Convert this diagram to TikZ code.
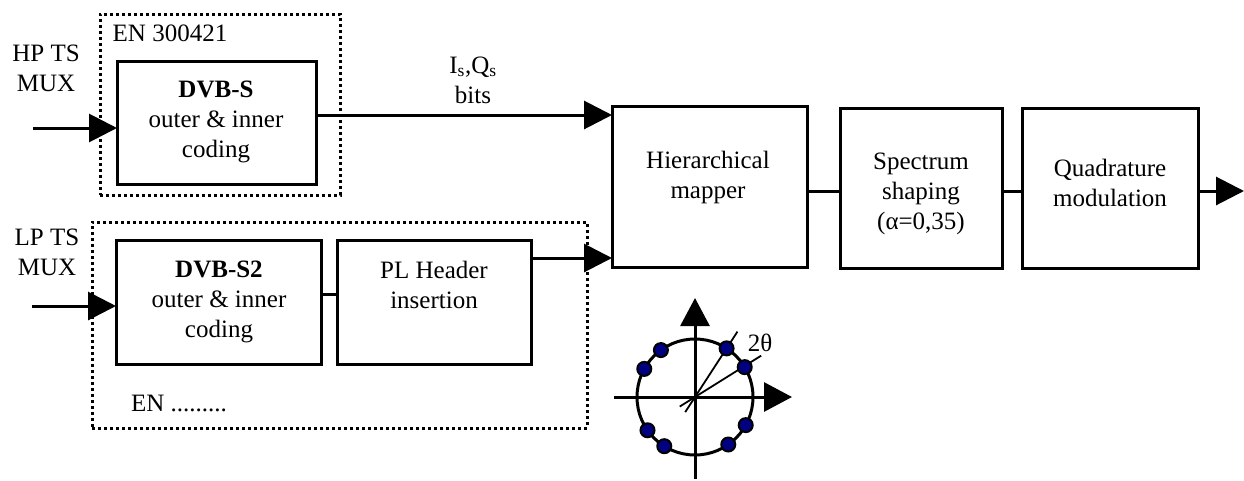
\documentclass[tikz,border=0pt]{standalone}
\usepackage{fontspec}
\setmainfont{Liberation Serif}
\usetikzlibrary{arrows.meta,calc}
\definecolor{dotblue}{RGB}{0,0,128}
\tikzset{
  txt/.style={font=\fontsize{25}{30}\selectfont, align=center, inner sep=0pt},
  blk/.style={draw, line width=3pt, outer sep=0pt, inner sep=0pt},
  dotbox/.style={draw, line width=3pt, dash pattern=on 3pt off 3pt, outer sep=0pt},
  conn/.style={line width=3pt},
  arr/.style={line width=3pt, -{Triangle[length=28pt,width=28pt]}},
}
\begin{document}
\begin{tikzpicture}[x=1pt,y=-1pt]
\useasboundingbox (0,0) rectangle (1244,480);

% dotted groups
\node[dotbox, minimum width=240pt, minimum height=181pt] (hpgrp) at (220,104.5) {};
\node[dotbox, minimum width=495pt, minimum height=206pt] (lpgrp) at (339.5,325) {};

% blocks
\node[blk, minimum width=199pt, minimum height=123pt] (dvbs) at (216.5,122.5) {};
\node[blk, minimum width=205pt, minimum height=124pt] (dvbs2) at (218.5,302) {};
\node[blk, minimum width=194pt, minimum height=124pt] (pl) at (434,302) {};
\node[blk, minimum width=195pt, minimum height=161pt] (mapper) at (709.5,186.5) {};
\node[blk, minimum width=162pt, minimum height=160pt] (spec) at (921,188) {};
\node[blk, minimum width=176pt, minimum height=160pt] (quad) at (1110,188) {};

% texts
\node[txt] (tEN1) at (170,33) {EN 300421};
\node[txt] (tHP) at (46,68) {HP TS\\MUX};
\node[txt] (tLP) at (47,252) {LP TS\\MUX};
\node[txt] (tEN2) at (179,403) {EN .........};
\node[txt] (tdvbs) at (216,122) {\textbf{DVB-S}\\outer \& inner\\coding};
\node[txt] (tdvbs2) at (219,302) {\textbf{DVB-S2}\\outer \& inner\\coding};
\node[txt] (tpl) at (434,285) {PL Header\\insertion};
\node[txt] (tmap) at (708,177) {Hierarchical\\mapper};
\node[txt] (tspec) at (921,194) {Spectrum\\shaping\\(α=0,35)};
\node[txt] (tquad) at (1110,183) {Quadrature\\modulation};
\node[txt] (tisq) at (473,80) {I\textsubscript{s},Q\textsubscript{s}\\bits};

% connectors
\coordinate (hpin) at (33,128);
\coordinate (lpin) at (32,306);
\coordinate (yIQ) at (0,115);
\coordinate (yLP) at (0,258);
\coordinate (yS2) at (0,294);
\coordinate (yM) at (0,191);
\coordinate (out) at (1244,191);

\draw[arr] (hpin) -- (hpin -| dvbs.west);
\draw[arr] (lpin) -- (lpin -| dvbs2.west);
\draw[arr] (dvbs.east |- yIQ) -- (mapper.west |- yIQ);
\draw[conn] (dvbs2.east |- yS2) -- (pl.west |- yS2);
\draw[arr] (pl.east |- yLP) -- (mapper.west |- yLP);
\draw[conn] (mapper.east |- yM) -- (spec.west |- yM);
\draw[conn] (spec.east |- yM) -- (quad.west |- yM);
\draw[arr] (quad.east |- yM) -- (out);

% constellation
\coordinate (o) at (695,397);
\coordinate (ybot) at (0,479);
\coordinate (ytop) at (0,298);
\coordinate (xl) at (614,0);
\coordinate (xr) at (792,0);
\draw[line width=3pt] (o) circle[radius=58];
\draw[line width=3pt, -{Triangle[length=28pt,width=29pt]}] (o |- ybot) -- (o |- ytop);
\draw[line width=3pt, -{Triangle[length=28pt,width=29pt]}] (xl |- o) -- (xr |- o);
\draw[line width=1.8pt] ($(o)+(-212:18)$) -- ($(o)+(-32:78)$);
\draw[line width=1.8pt] ($(o)+(-237:18)$) -- ($(o)+(-57:78)$);
\foreach \a in {31,57,126,151,215,238,305,331}
  \draw[line width=2pt, fill=dotblue] ($(o)+(-\a:58)$) circle[radius=7];
\node[txt] (ttheta) at (760,343) {2θ};
\end{tikzpicture}
\end{document}
